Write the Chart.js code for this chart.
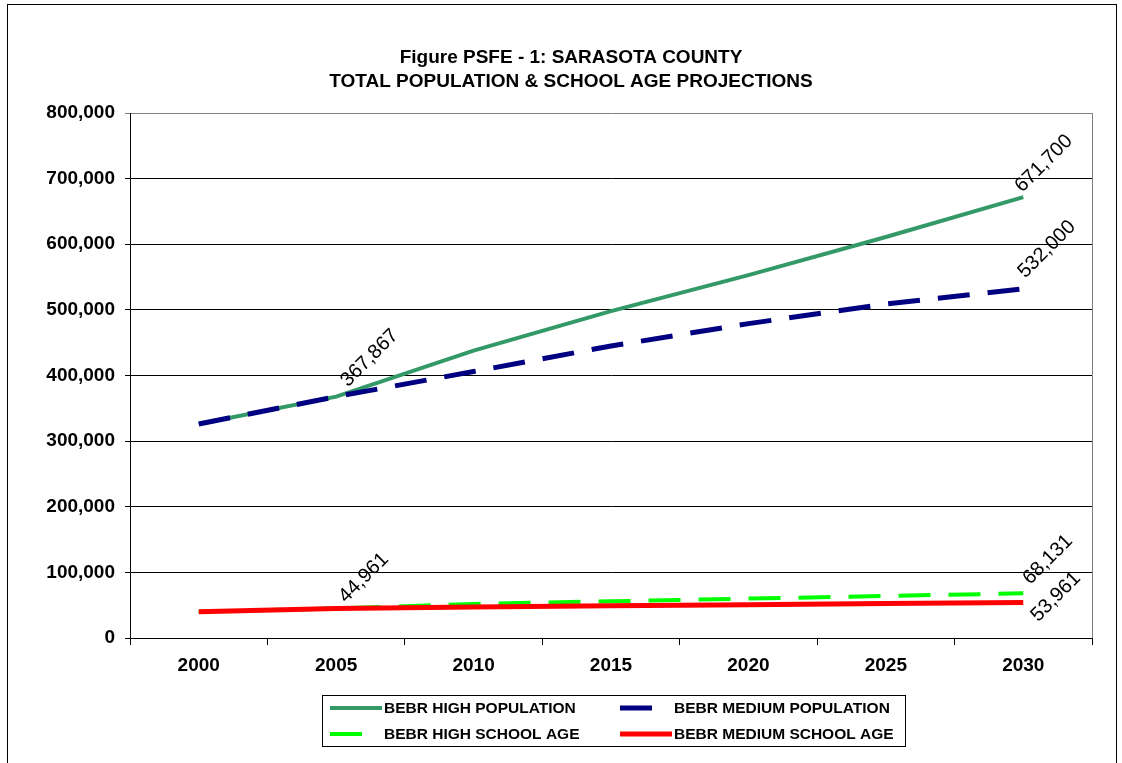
<!DOCTYPE html>
<html>
<head>
<meta charset="utf-8">
<title>Sarasota County Population Projections</title>
<script src="https://cdn.jsdelivr.net/npm/chart.js@4.4.1/dist/chart.umd.min.js"></script>
<style>
  html, body { margin: 0; padding: 0; background: #fff; }
  #wrap { width: 1122px; height: 763px; }
</style>
</head>
<body>
<div id="wrap"><canvas id="myChart" width="1122" height="763"></canvas></div>
<script>
  const years = ["2000", "2005", "2010", "2015", "2020", "2025", "2030"];
  const highPopulation = [326000, 367867, 438000, 498000, 553000, 611000, 671700];
  const mediumPopulation = [326000, 367867, 406000, 445000, 479000, 509000, 532000];
  const highSchoolAge = [40000, 44961, 52000, 56000, 60000, 64000, 68131];
  const mediumSchoolAge = [40000, 44961, 47400, 49200, 50800, 52400, 53961];
  const yTicks = [0, 100000, 200000, 300000, 400000, 500000, 600000, 700000, 800000];

  const titleLines = ["Figure PSFE - 1: SARASOTA COUNTY", "TOTAL POPULATION & SCHOOL AGE PROJECTIONS"];
  const fam = "'Liberation Sans', Arial, sans-serif";

  // which point gets a value label, and where it sits next to the point
  const valueLabels = [
    { ds: 1, i: 1, dx: 8, dy: -13 },
    { ds: 0, i: 6, dx: -5, dy: -8 },
    { ds: 1, i: 6, dx: -2, dy: -14 },
    { ds: 3, i: 1, dx: 6, dy: -9 },
    { ds: 2, i: 6, dx: 3, dy: -12 },
    { ds: 3, i: 6, dx: 11, dy: 16 }
  ];

  // page frame, title and plot border
  const framePlugin = {
    id: "frame",
    beforeDraw(chart) {
      const c = chart.ctx;
      c.save();
      c.fillStyle = "#fff";
      c.fillRect(0, 0, chart.width, chart.height);
      c.strokeStyle = "#000";
      c.lineWidth = 1;
      c.strokeRect(7.5, 4.5, 1109, 800);
      c.font = "bold 19px " + fam;
      c.fillStyle = "#000";
      c.textAlign = "center";
      c.textBaseline = "middle";
      c.fillText(titleLines[0], 571, 58);
      c.fillText(titleLines[1], 571, 82);
      c.restore();
    },
    afterDraw(chart) {
      const a = chart.chartArea;
      const c = chart.ctx;
      c.save();
      c.strokeStyle = "#808080";
      c.lineWidth = 1;
      c.beginPath();
      c.moveTo(Math.round(a.right) + 0.5, a.top);
      c.lineTo(Math.round(a.right) + 0.5, a.bottom);
      c.stroke();
      c.restore();
    }
  };

  // rotated value labels
  const labelPlugin = {
    id: "valueLabels",
    afterDatasetsDraw(chart) {
      const c = chart.ctx;
      c.save();
      c.font = "20px " + fam;
      c.fillStyle = "#000";
      c.textAlign = "left";
      c.textBaseline = "middle";
      valueLabels.forEach(l => {
        const pt = chart.getDatasetMeta(l.ds).data[l.i];
        const v = chart.data.datasets[l.ds].data[l.i];
        c.save();
        c.translate(pt.x + l.dx, pt.y + l.dy);
        c.rotate(-Math.PI / 4);
        c.fillText(v.toLocaleString("en-US"), 0, 0);
        c.restore();
      });
      c.restore();
    }
  };

  // boxed legend, two columns
  const legendPlugin = {
    id: "boxLegend",
    afterDraw(chart) {
      const c = chart.ctx;
      const ds = chart.data.datasets;
      const slots = [
        { x: 330, y: 708 }, { x: 620, y: 708 },
        { x: 330, y: 734 }, { x: 620, y: 734 }
      ];
      c.save();
      c.strokeStyle = "#000";
      c.lineWidth = 1;
      c.strokeRect(322.5, 695.5, 583, 51);
      c.font = "bold 15.5px " + fam;
      c.fillStyle = "#000";
      c.textBaseline = "middle";
      ds.forEach((d, k) => {
        const s = slots[k];
        c.strokeStyle = d.borderColor;
        c.lineWidth = d.borderWidth;
        c.lineCap = "butt";
        c.setLineDash([]);
        c.beginPath();
        c.moveTo(s.x, s.y);
        c.lineTo(s.x + (d.borderDash ? 32 : 52), s.y);
        c.stroke();
        c.fillText(d.label, s.x + 54, s.y + 1);
      });
      c.restore();
    }
  };

  const ctx = document.getElementById("myChart").getContext("2d");
  new Chart(ctx, {
    type: "line",
    data: {
      labels: years,
      datasets: [
        { label: "BEBR HIGH POPULATION", data: highPopulation, borderColor: "#339966", borderWidth: 4, order: 2 },
        { label: "BEBR MEDIUM POPULATION", data: mediumPopulation, borderColor: "#000080", borderWidth: 5, borderDash: [32, 18], order: 1 },
        { label: "BEBR HIGH SCHOOL AGE", data: highSchoolAge, borderColor: "#00ff00", borderWidth: 4, borderDash: [32, 18], order: 2 },
        { label: "BEBR MEDIUM SCHOOL AGE", data: mediumSchoolAge, borderColor: "#ff0000", borderWidth: 5, order: 1 }
      ]
    },
    options: {
      responsive: false,
      animation: false,
      devicePixelRatio: 1,
      elements: {
        point: { radius: 0 },
        line: { tension: 0, fill: false, borderCapStyle: "butt" }
      },
      layout: { padding: { top: 113, left: 0, right: 30, bottom: 0 } },
      plugins: {
        legend: { display: false },
        tooltip: { enabled: false },
        title: { display: false }
      },
      scales: {
        x: {
          offset: true,
          afterFit(scale) { scale.height = 125; },
          grid: { offset: true, drawOnChartArea: false, drawTicks: true, tickLength: 7, color: "#000" },
          border: { display: true, color: "#000", width: 1 },
          ticks: { color: "#000", padding: 9, maxRotation: 0, font: { family: fam, size: 19, weight: "bold" } }
        },
        y: {
          min: 0,
          max: 800000,
          afterFit(scale) { scale.width = 130; },
          afterBuildTicks(scale) { scale.ticks = yTicks.map(v => ({ value: v })); },
          grid: {
            color: c => (c.tick && c.tick.value === 800000 ? "#808080" : "#000"),
            tickLength: 5,
            drawTicks: true
          },
          border: { display: true, color: "#000", width: 1 },
          ticks: {
            color: "#000",
            padding: 10,
            font: { family: fam, size: 19, weight: "bold" },
            callback: v => v.toLocaleString("en-US")
          }
        }
      }
    },
    plugins: [framePlugin, labelPlugin, legendPlugin]
  });
</script>
</body>
</html>
